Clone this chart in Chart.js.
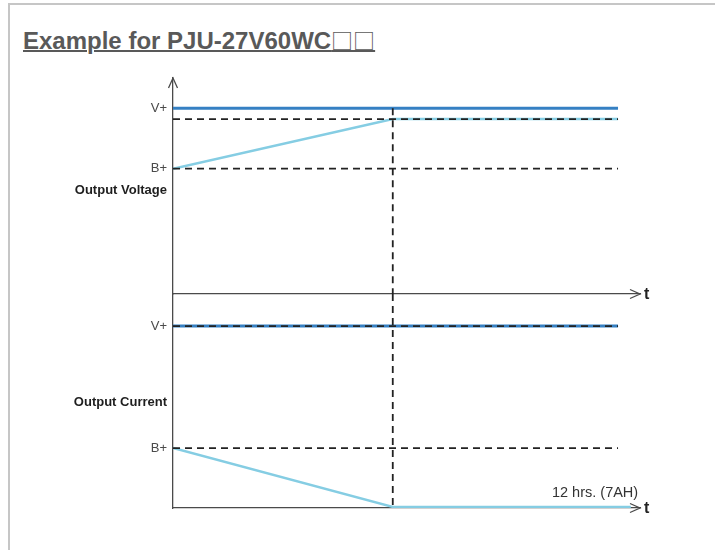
<!DOCTYPE html>
<html lang="en">
<head>
<meta charset="UTF-8">
<title>Example for PJU-27V60WC</title>
<script src="https://cdn.jsdelivr.net/npm/chart.js"></script>
<style>
  html, body { margin: 0; padding: 0; background: #fff; }
  body { width: 715px; height: 550px; position: relative; overflow: hidden; font-family: "Liberation Sans", Arial, sans-serif; }
  .rule-top { position: absolute; left: 8px; top: 3px; width: 707px; height: 2px; background: #c6c6c6; }
  .rule-left { position: absolute; left: 8px; top: 3px; width: 2px; height: 547px; background: #c6c6c6; }
  h1 { position: absolute; left: 23px; top: 26px; margin: 0; font-size: 24px; line-height: 27px; font-weight: bold; color: #595959; text-decoration: underline; text-decoration-thickness: 2px; white-space: nowrap; }
  h1 .box { font-family: "Noto Sans CJK JP", "DejaVu Sans", sans-serif; font-weight: normal; font-size: 22px; }
  canvas { position: absolute; left: 0; top: 0; }
</style>
</head>
<body>
<div class="rule-top"></div>
<div class="rule-left"></div>
<h1>Example for PJU-27V60WC<span class="box">□□</span></h1>
<canvas id="voltage" width="715" height="550"></canvas>
<canvas id="current" width="715" height="550"></canvas>

<script>
// time in hours: start of charge, battery full (12 hrs), end of drawing
const timePoints = [0, 12, 24.3];
const timeAxisMax = 25.5;
const fullChargeHrs = 12;

// Output voltage panel (relative levels 0..10)
const voltTickValues = [8.6, 5.8, 4.8];
const voltTickLabels = ['V+', 'B+', 'Output Voltage'];
const voltSupply  = [8.6, 8.6, 8.6];   // V+ output
const voltFloat   = [8.1, 8.1, 8.1];   // float level (dashed)
const voltBattery = [5.8, 5.8, 5.8];   // B+ level (dashed)
const voltCharge  = [5.8, 8.1, 8.1];   // battery voltage while charging

// Output current panel (relative levels 0..10)
const currTickValues = [8.5, 4.95, 2.8];
const currTickLabels = ['V+', 'Output Current', 'B+'];
const currTime    = [0, 12, 25.0];
const currSupply  = [8.5, 8.5, 8.5];
const currBattery = [2.8, 2.8, 2.8];
const currCharge  = [2.8, 0.05, 0.05];

const noteText = '12 hrs. (7AH)';
const notePos = [25.4, 0.7];

const FONT = "'Liberation Sans', Arial, sans-serif";
const DARK_BLUE = '#3580c3';
const LIGHT_BLUE = '#85cde3';
const AXIS = '#4a4a4a';

const pts = (xs, ys) => xs.map((x, i) => ({ x: x, y: ys[i] }));

function solid(data, color, width) {
  return { data: data, borderColor: color, borderWidth: width, pointRadius: 0, fill: false, tension: 0 };
}
function dashed(data) {
  return { data: data, borderColor: '#222', borderWidth: 1.8, borderDash: [7, 5], pointRadius: 0, fill: false, tension: 0 };
}

// arrows, "t" labels and the note text
const axisDecor = {
  id: 'axisDecor',
  afterDraw(chart, args, opts) {
    const { ctx, chartArea: a } = chart;
    ctx.save();
    ctx.strokeStyle = AXIS;
    ctx.lineWidth = 1.3;
    ctx.beginPath();
    ctx.moveTo(a.right - 10, a.bottom - 4.5);
    ctx.lineTo(a.right, a.bottom);
    ctx.lineTo(a.right - 10, a.bottom + 4.5);
    if (opts.yArrow) {
      ctx.moveTo(a.left - 4.5, a.top + 10);
      ctx.lineTo(a.left, a.top);
      ctx.lineTo(a.left + 4.5, a.top + 10);
    }
    ctx.stroke();
    ctx.fillStyle = '#222';
    ctx.font = 'bold 16px ' + FONT;
    ctx.textBaseline = 'middle';
    ctx.textAlign = 'left';
    ctx.fillText('t', a.right + 4, a.bottom + 1);
    if (opts.note) {
      const x = chart.scales.x.getPixelForValue(opts.note.pos[0]);
      const y = chart.scales.y.getPixelForValue(opts.note.pos[1]);
      ctx.font = '14.5px ' + FONT;
      ctx.fillStyle = '#333';
      ctx.textAlign = 'right';
      ctx.fillText(opts.note.text, x, y);
    }
    ctx.restore();
  }
};

function makeChart(id, datasets, tickValues, tickLabels, pad, decor) {
  return new Chart(document.getElementById(id), {
    type: 'line',
    data: { datasets: datasets },
    plugins: [axisDecor],
    options: {
      responsive: false,
      animation: false,
      events: [],
      layout: { padding: pad },
      plugins: { legend: { display: false }, tooltip: { enabled: false }, axisDecor: decor },
      scales: {
        x: {
          type: 'linear', min: 0, max: timeAxisMax,
          grid: { display: false, drawTicks: false },
          border: { color: AXIS, width: 1.3 },
          ticks: { display: false },
          afterFit: s => { s.height = 0; }
        },
        y: {
          type: 'linear', min: 0, max: 10,
          grid: { display: false, drawTicks: false },
          border: { color: AXIS, width: 1.3 },
          afterBuildTicks: s => { s.ticks = tickValues.map(v => ({ value: v })); },
          afterFit: s => { s.width = 173; },
          ticks: {
            autoSkip: false,
            padding: 6,
            callback: (v, i) => tickLabels[i],
            font: c => ({ family: FONT, size: 13, weight: tickLabels[c.index] && tickLabels[c.index].startsWith('Output') ? 'bold' : 'normal' }),
            color: c => tickLabels[c.index] && tickLabels[c.index].startsWith('Output') ? '#1e1e1e' : '#4a4a4a'
          }
        }
      }
    }
  });
}

makeChart('voltage', [
  dashed(pts(timePoints, voltFloat)),
  dashed(pts(timePoints, voltBattery)),
  dashed(pts([fullChargeHrs, fullChargeHrs], [voltSupply[0], 0])),
  solid(pts(timePoints, voltSupply), DARK_BLUE, 3),
  solid(pts(timePoints, voltCharge), LIGHT_BLUE, 2.5)
], voltTickValues, voltTickLabels, { left: 0, top: 78, right: 75, bottom: 256 }, { yArrow: true });

makeChart('current', [
  dashed(pts(timePoints, currSupply)),
  dashed(pts(timePoints, currBattery)),
  dashed(pts([fullChargeHrs, fullChargeHrs], [10, 0])),
  solid(pts(timePoints, currSupply), DARK_BLUE, 3),
  solid(pts(currTime, currCharge), LIGHT_BLUE, 2.5)
], currTickValues, currTickLabels, { left: 0, top: 294, right: 75, bottom: 42 }, { yArrow: false, note: { text: noteText, pos: notePos } });
</script>
</body>
</html>
